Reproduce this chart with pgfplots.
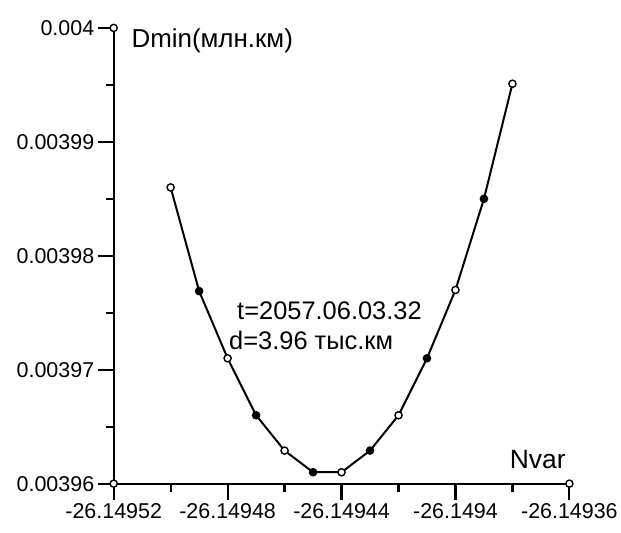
\documentclass[border=0pt]{standalone}
\usepackage{pgfplots}
\pgfplotsset{compat=1.18}
\usepackage{pgfplotstable}
\usepackage{fontspec}
\setmainfont{Liberation Sans}

% Nvar is kept as (Nvar + 26.14952)*1e5, so 2 -> -26.1495, 14 -> -26.14938
% (TeX's floats cannot resolve steps of 1e-5 at 26.1495); real values are in the tick labels
\pgfplotstableread{
nvar dmin   kind
2  0.0039860 o
3  0.0039769 f
4  0.0039710 o
5  0.0039660 f
6  0.0039629 o
7  0.0039610 f
8  0.0039610 o
9  0.0039629 f
10 0.0039660 o
11 0.0039710 f
12 0.0039770 o
13 0.0039850 f
14 0.0039951 o
}\dminvar

\begin{document}
\begin{tikzpicture}
\begin{axis}[
    at={(0pt,0pt)}, anchor=south west,
    scale only axis, width=457pt, height=457pt,
    xmin=0, xmax=16, ymin=0.00396, ymax=0.004,
    axis x line=bottom, axis y line=left,
    axis line style={-, line width=2.2pt, black},
    tick align=outside,
    major tick length=16pt, minor tick length=8pt,
    major tick style={black, line width=2.2pt},
    minor tick style={black, line width=2.2pt},
    xtick={0,4,8,12,16},
    xticklabels={-26.14952,-26.14948,-26.14944,-26.1494,-26.14936},
    ytick={0.00396,0.00397,0.00398,0.00399,0.004},
    yticklabels={0.00396,0.00397,0.00398,0.00399,0.004},
    minor x tick num=1, minor y tick num=1,
    scaled x ticks=false, scaled y ticks=false,
    tick label style={font=\fontsize{21.5}{25}\selectfont},
    clip=false,
]
\addplot[black, line width=2pt,
    scatter, scatter src=explicit symbolic,
    scatter/classes={
        o={mark=*, mark size=3.6pt, draw=black, fill=white, line width=1.4pt},
        f={mark=*, mark size=3.6pt, draw=black, fill=black, line width=1.4pt}}]
    table[x=nvar, y=dmin, meta=kind] {\dminvar};
% open circles at the ends of the axes
\addplot[only marks, mark=*, mark size=3.6pt, draw=black, fill=white, line width=1.4pt]
    coordinates {(0,0.004) (0,0.00396) (16,0.00396)};

\node[anchor=base west, inner sep=0pt, font=\fontsize{26}{30}\selectfont]
    at (axis cs:0.62,0.0039983) {Dmin(млн.км)};
\node[anchor=base west, inner sep=0pt, font=\fontsize{26.5}{30}\selectfont]
    at (axis cs:13.9,0.0039613) {Nvar};
\node[anchor=base west, inner sep=0pt, font=\fontsize{25.5}{30}\selectfont]
    at (axis cs:4.33,0.0039744) {t=2057.06.03.32};
\node[anchor=base west, inner sep=0pt, font=\fontsize{25.5}{30}\selectfont]
    at (axis cs:4.05,0.0039718) {d=3.96 тыс.км};
\end{axis}
\path[use as bounding box] (-114pt,-49pt) rectangle (507pt,485pt);
\end{tikzpicture}
\end{document}
